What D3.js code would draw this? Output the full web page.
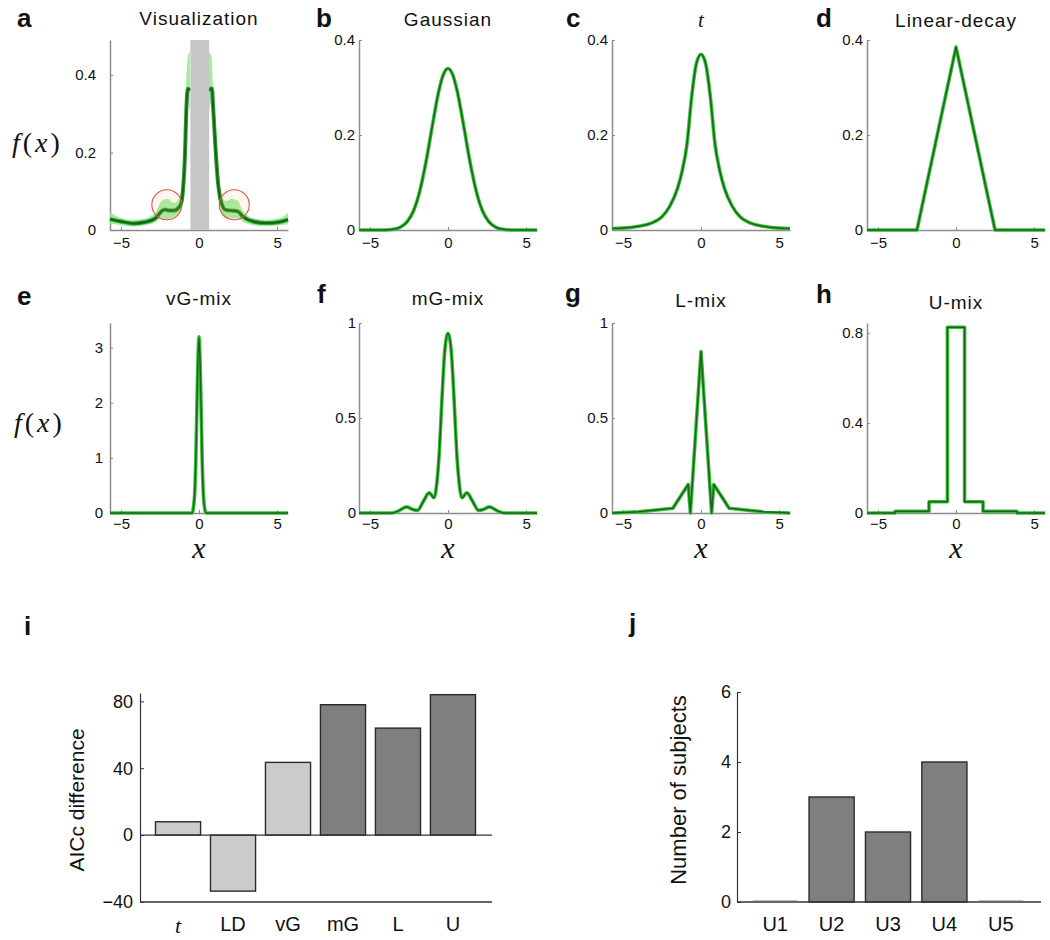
<!DOCTYPE html>
<html><head><meta charset="utf-8">
<script src="https://cdn.jsdelivr.net/npm/d3@7"></script>
<style>body{margin:0;background:#fff} svg{display:block}</style>
</head><body><svg id="c" width="1050" height="940"></svg>
<script>
// ---------------- DATA ----------------
const xTickValues = [-5, 0, 5];
const xDomain = [-5.7, 5.7];

// panel a: estimated density (two sides of the masked centre)
const vizCurveLeft = [[-5.7,0.028],[-5.0,0.022],[-4.2,0.017],[-3.5,0.02],[-2.8,0.03],[-2.4,0.048],[-2.2,0.053],[-1.9,0.05],[-1.6,0.05],[-1.3,0.058],[-1.14,0.069],[-0.92,0.173],[-0.77,0.346],[-0.7,0.364],[-0.58,0.36]];
const vizCurveRight = [[0.62,0.36],[0.83,0.365],[0.9,0.32],[1.05,0.216],[1.2,0.13],[1.38,0.078],[1.7,0.052],[2.1,0.05],[2.48,0.048],[2.8,0.035],[3.47,0.022],[4.2,0.018],[4.8,0.019],[5.3,0.022],[5.7,0.027]];
const vizBandLeft = [[-5.7,0.016,0.045],[-5.0,0.013,0.031],[-4.2,0.009,0.026],[-3.5,0.012,0.029],[-2.8,0.02,0.045],[-2.4,0.03,0.075],[-2.0,0.028,0.08],[-1.6,0.035,0.07],[-1.3,0.045,0.08],[-1.1,0.06,0.12],[-0.95,0.12,0.22],[-0.8,0.28,0.4],[-0.7,0.33,0.45],[-0.58,0.3,0.46]];
const vizBandRight = [[0.62,0.3,0.46],[0.8,0.33,0.45],[0.9,0.27,0.36],[1.05,0.17,0.25],[1.2,0.1,0.16],[1.4,0.05,0.1],[1.7,0.03,0.075],[2.1,0.03,0.08],[2.5,0.03,0.075],[2.8,0.022,0.05],[3.5,0.012,0.03],[4.2,0.01,0.026],[4.8,0.011,0.028],[5.3,0.013,0.032],[5.7,0.015,0.045]];
const vizMask = [-0.55, 0.65];
const vizCircles = [[-2.06,0.065],[2.26,0.065]];

const curveGaussian = [[-5.7,0],[-4.2,0],[-3.8,0.0005],[-3.4,0.002],[-3.0,0.007],[-2.6,0.018],[-2.2,0.041],[-1.8,0.083],[-1.4,0.145],[-1.0,0.22],[-0.6,0.291],[-0.3,0.327],[0,0.34],[0.3,0.327],[0.6,0.291],[1.0,0.22],[1.4,0.145],[1.8,0.083],[2.2,0.041],[2.6,0.018],[3.0,0.007],[3.4,0.002],[3.8,0.0005],[4.2,0],[5.7,0]];
const curveT = [[-5.7,0.003],[-5.0,0.004],[-4.0,0.008],[-3.5,0.011],[-3.0,0.017],[-2.5,0.028],[-2.0,0.05],[-1.5,0.088],[-1.2,0.125],[-0.9,0.18],[-0.6,0.28],[-0.3,0.35],[0,0.37],[0.3,0.35],[0.6,0.28],[0.9,0.18],[1.2,0.125],[1.5,0.088],[2.0,0.05],[2.5,0.028],[3.0,0.017],[3.5,0.011],[4.0,0.008],[5.0,0.004],[5.7,0.003]];
const curveLinearDecay = [[-5.7,0],[-2.5,0],[0,0.385],[2.5,0],[5.7,0]];
const curveVG = [[-5.7,0],[-0.45,0],[-0.3,0.25],[-0.2,1.0],[-0.1,2.4],[0,3.2],[0.1,2.4],[0.2,1.0],[0.3,0.25],[0.45,0],[5.7,0]];
const curveMG = [[-5.7,0],[-3.6,0],[-3.2,0.01],[-2.65,0.032],[-2.3,0.02],[-1.95,0.014],[-1.6,0.058],[-1.2,0.106],[-0.9,0.08],[-0.7,0.17],[-0.55,0.33],[-0.4,0.58],[-0.2,0.86],[0,0.945],[0.2,0.86],[0.4,0.58],[0.55,0.33],[0.7,0.17],[0.9,0.08],[1.2,0.106],[1.6,0.058],[1.95,0.014],[2.3,0.02],[2.65,0.032],[3.2,0.01],[3.6,0],[5.7,0]];
const curveL = [[-5.7,0],[-4.0,0.006],[-1.8,0.025],[-0.82,0.15],[-0.68,0],[0,0.85],[0.68,0],[0.82,0.15],[1.8,0.025],[4.0,0.006],[5.7,0]];
const curveU = [[-5.7,0],[-3.9,0.008],[-1.73,0.05],[-0.55,0.826],[0.55,0.05],[1.73,0.008],[3.9,0],[5.7,0]];

const yTicksTop = [0, 0.2, 0.4];
const yTicksVG = [0, 1, 2, 3];
const yTicksMix = [0, 0.5, 1];
const yTicksU = [0, 0.4, 0.8];

// panel i
const aiccModels = ["t", "LD", "vG", "mG", "L", "U"];
const aiccValues = [8, -33.5, 43.5, 78, 64, 84];
const aiccKind = ["single", "single", "single", "mix", "mix", "mix"];
const aiccTicks = [-40, 0, 40, 80];

// panel j
const uModels = ["U1", "U2", "U3", "U4", "U5"];
const uCounts = [0, 3, 2, 4, 0];
const uTicks = [0, 2, 4, 6];

// ---------------- DRAWING ----------------
const svg = d3.select('#c');
const SANS = '"Liberation Sans", Arial, Helvetica, sans-serif';
const SERIF = '"Liberation Serif", "Times New Roman", serif';
const minusFmt = d => (d < 0 ? '\u2212' + Math.abs(d) : String(d));

function styleAxis(sel, color, size, width) {
  sel.selectAll('path.domain').attr('stroke', color).attr('stroke-width', width);
  sel.selectAll('.tick line').attr('stroke', color).attr('stroke-width', 1);
  sel.selectAll('.tick text').attr('fill', '#111').attr('font-family', SANS).attr('font-size', size);
}

function fx(x, y) {
  const t = svg.append('text').attr('x', x).attr('y', y).attr('font-family', SERIF)
    .attr('font-size', 28).attr('letter-spacing', 3).attr('fill', '#111');
  t.append('tspan').attr('font-style', 'italic').text('f');
  t.append('tspan').text('(');
  t.append('tspan').attr('font-style', 'italic').text('x');
  t.append('tspan').text(')');
}

const W = 178;
const panels = [
  {letter:'a', lx:17, ly:27, title:'Visualization', ty:25, left:110, top:40, bottom:230, yDomain:[0,0.49], yTicks:yTicksTop, yPad:14, xPad:7, data:null},
  {letter:'b', lx:316, ly:27, title:'Gaussian', ty:26, left:359, top:40, bottom:230, yDomain:[0,0.4], yTicks:yTicksTop, yPad:4, xPad:7, data:curveGaussian, curve:d3.curveMonotoneX},
  {letter:'c', lx:566, ly:27, title:'t', italic:true, ty:27, left:612, top:40, bottom:230, yDomain:[0,0.4], yTicks:yTicksTop, yPad:4, xPad:7, data:curveT, curve:d3.curveMonotoneX},
  {letter:'d', lx:816, ly:27, title:'Linear-decay', ty:27, left:867, top:40, bottom:230, yDomain:[0,0.4], yTicks:yTicksTop, yPad:4, xPad:7, data:curveLinearDecay, curve:d3.curveLinear},
  {letter:'e', lx:17, ly:305, title:'vG-mix', ty:305, left:110, top:323, bottom:513, yDomain:[0,3.45], yTicks:yTicksVG, yPad:7, xPad:5, data:curveVG, curve:d3.curveMonotoneX},
  {letter:'f', lx:317, ly:303, title:'mG-mix', ty:305, left:359, top:323, bottom:513, yDomain:[0,1], yTicks:yTicksMix, yPad:3, xPad:5, data:curveMG, curve:d3.curveMonotoneX},
  {letter:'g', lx:565, ly:302, title:'L-mix', ty:307, left:612, top:323, bottom:513, yDomain:[0,1], yTicks:yTicksMix, yPad:4, xPad:5, data:curveL, curve:d3.curveLinear},
  {letter:'h', lx:816, ly:303, title:'U-mix', ty:309, left:867, top:323, bottom:513, yDomain:[0,0.845], yTicks:yTicksU, yPad:4, xPad:5, data:curveU, curve:d3.curveStepAfter}
];

panels.forEach(p => {
  const x = d3.scaleLinear().domain(xDomain).range([p.left, p.left + W]);
  const y = d3.scaleLinear().domain(p.yDomain).range([p.bottom, p.top]);
  const g = svg.append('g');

  const ax = g.append('g').attr('transform', `translate(0,${p.bottom})`)
    .call(d3.axisBottom(x).tickValues(xTickValues).tickSizeInner(-3).tickSizeOuter(0).tickPadding(p.xPad).tickFormat(minusFmt));
  styleAxis(ax, '#8c8c8c', 15, 1.5);
  const ay = g.append('g').attr('transform', `translate(${p.left},0)`)
    .call(d3.axisLeft(y).tickValues(p.yTicks).tickSizeInner(-3).tickSizeOuter(0).tickPadding(p.yPad).tickFormat(d => String(d)));
  styleAxis(ay, '#8c8c8c', 15, 1.5);

  const line = d3.line().x(d => x(d[0])).y(d => y(d[1]));

  if (p.data) {
    line.curve(p.curve);
    g.append('path').datum(p.data).attr('d', line).attr('fill', 'none')
      .attr('stroke', '#33c433').attr('stroke-width', 3.6).attr('stroke-linejoin', 'round');
    g.append('path').datum(p.data).attr('d', line).attr('fill', 'none')
      .attr('stroke', '#215f21').attr('stroke-width', 1.5).attr('stroke-linejoin', 'round');
  } else {
    // Visualization panel
    const area = d3.area().x(d => x(d[0])).y0(d => y(d[1])).y1(d => y(d[2])).curve(d3.curveMonotoneX);
    [vizBandLeft, vizBandRight].forEach(b => {
      g.append('path').datum(b).attr('d', area).attr('fill', '#8fea8f').attr('opacity', 0.85);
    });
    line.curve(d3.curveMonotoneX);
    [vizCurveLeft, vizCurveRight].forEach(c => {
      g.append('path').datum(c).attr('d', line).attr('fill', 'none')
        .attr('stroke', '#27a327').attr('stroke-width', 4).attr('stroke-linejoin', 'round');
      g.append('path').datum(c).attr('d', line).attr('fill', 'none')
        .attr('stroke', '#1b611b').attr('stroke-width', 2).attr('stroke-linejoin', 'round');
    });
    g.append('rect').attr('x', x(vizMask[0])).attr('width', x(vizMask[1]) - x(vizMask[0]))
      .attr('y', y(p.yDomain[1])).attr('height', y(0) - y(p.yDomain[1])).attr('fill', '#c6c6c6');
    g.selectAll('circle.mark').data(vizCircles).enter().append('circle')
      .attr('cx', d => x(d[0])).attr('cy', d => y(d[1])).attr('r', 15)
      .attr('fill', 'rgba(255,190,120,0.12)').attr('stroke', '#d9534f').attr('stroke-width', 1.1);
  }

  // title
  svg.append('text').attr('x', x(0)).attr('y', p.ty).attr('text-anchor', 'middle')
    .attr('fill', '#111').attr('font-size', p.italic ? 21 : 19)
    .attr('font-family', p.italic ? SERIF : SANS).attr('letter-spacing', p.italic ? 0 : 1)
    .attr('font-style', p.italic ? 'italic' : 'normal').text(p.title);
  // panel letter
  svg.append('text').attr('x', p.lx).attr('y', p.ly).attr('font-family', SANS).attr('font-weight', 'bold')
    .attr('font-size', 26).attr('fill', '#111').text(p.letter);
  // x label (second row)
  if (p.top > 300) {
    svg.append('text').attr('x', x(0)).attr('y', 558).attr('text-anchor', 'middle')
      .attr('font-family', SERIF).attr('font-style', 'italic').attr('font-size', 30).attr('fill', '#111').text('x');
  }
});

fx(12, 152);
fx(14, 432);

// ---- panel i ----
(function(){
  const y = d3.scaleLinear().domain([-40, 85]).range([902, 693]);
  const x = d3.scaleBand().domain(aiccModels).range([150, 481]).paddingInner(0.18).paddingOuter(0.1);
  const g = svg.append('g');
  g.selectAll('rect').data(aiccModels).enter().append('rect')
    .attr('x', d => x(d))
    .attr('width', x.bandwidth())
    .attr('y', (d, i) => y(Math.max(0, aiccValues[i])))
    .attr('height', (d, i) => Math.abs(y(aiccValues[i]) - y(0)))
    .attr('fill', (d, i) => aiccKind[i] === 'mix' ? '#7f7f7f' : '#cbcbcb')
    .attr('stroke', '#2a2a2a').attr('stroke-width', 1.4);
  g.append('line').attr('x1', 140).attr('x2', 492).attr('y1', y(0)).attr('y2', y(0)).attr('stroke', '#333').attr('stroke-width', 1.2);
  g.append('line').attr('x1', 140).attr('x2', 492).attr('y1', y(-40)).attr('y2', y(-40)).attr('stroke', '#333').attr('stroke-width', 1.4);
  const ay = g.append('g').attr('transform', 'translate(140,0)')
    .call(d3.axisLeft(y).tickValues(aiccTicks).tickSizeInner(-4).tickSizeOuter(0).tickPadding(7).tickFormat(minusFmt));
  styleAxis(ay, '#333', 18, 1.2);
  const ax = g.append('g').attr('transform', `translate(0,${y(-40)})`)
    .call(d3.axisBottom(x).tickSize(0).tickPadding(15));
  ax.select('path.domain').remove();
  styleAxis(ax, '#333', 20, 1);
  ax.selectAll('.tick text').filter(d => d === 't').attr('font-family', SERIF).attr('font-style', 'italic').attr('font-size', 22);
  svg.append('text').attr('transform', 'translate(84,800) rotate(-90)').attr('text-anchor', 'middle')
    .attr('font-family', SANS).attr('font-size', 21).attr('fill', '#111').text('AICc  difference');
  svg.append('text').attr('x', 24).attr('y', 635).attr('font-family', SANS).attr('font-weight', 'bold')
    .attr('font-size', 26).attr('fill', '#111').text('i');
})();

// ---- panel j ----
(function(){
  const y = d3.scaleLinear().domain([0, 6]).range([902, 692]);
  const x = d3.scaleBand().domain(uModels).range([747, 1029]).paddingInner(0.2).paddingOuter(0.1);
  const g = svg.append('g');
  g.selectAll('rect').data(uModels.filter((d, i) => uCounts[i] > 0)).enter().append('rect')
    .attr('x', d => x(d)).attr('width', x.bandwidth())
    .attr('y', d => y(uCounts[uModels.indexOf(d)]))
    .attr('height', d => y(0) - y(uCounts[uModels.indexOf(d)]))
    .attr('fill', '#7f7f7f').attr('stroke', '#2a2a2a').attr('stroke-width', 1.4);
  g.selectAll('line.zero').data(uModels.filter((d, i) => uCounts[i] === 0)).enter().append('line')
    .attr('x1', d => x(d)).attr('x2', d => x(d) + x.bandwidth())
    .attr('y1', y(0) - 1.5).attr('y2', y(0) - 1.5).attr('stroke', '#bdbdbd').attr('stroke-width', 1.2);
  g.append('line').attr('x1', 737).attr('x2', 1041).attr('y1', y(0)).attr('y2', y(0)).attr('stroke', '#333').attr('stroke-width', 1.4);
  const ay = g.append('g').attr('transform', 'translate(737,0)')
    .call(d3.axisLeft(y).tickValues(uTicks).tickSizeInner(-4).tickSizeOuter(0).tickPadding(6).tickFormat(d => String(d)));
  styleAxis(ay, '#333', 18, 1.2);
  const ax = g.append('g').attr('transform', `translate(0,${y(0)})`)
    .call(d3.axisBottom(x).tickSize(0).tickPadding(15));
  ax.select('path.domain').remove();
  styleAxis(ax, '#333', 20, 1);
  svg.append('text').attr('transform', 'translate(686,790) rotate(-90)').attr('text-anchor', 'middle')
    .attr('font-family', SANS).attr('font-size', 22).attr('fill', '#111').text('Number of subjects');
  svg.append('text').attr('x', 629).attr('y', 632).attr('font-family', SANS).attr('font-weight', 'bold')
    .attr('font-size', 26).attr('fill', '#111').text('j');
})();
</script></body></html>
